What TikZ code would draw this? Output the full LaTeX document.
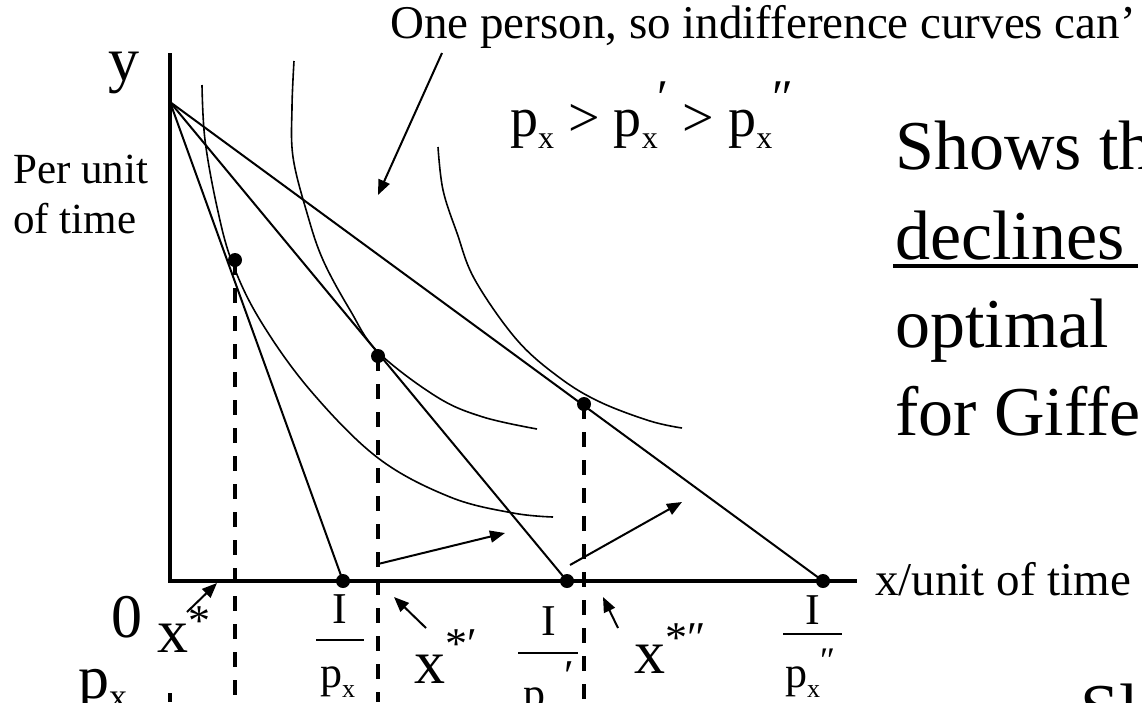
\documentclass[tikz,border=0pt]{standalone}
\usepackage{fontspec}
\setmainfont{Liberation Serif}
\usetikzlibrary{arrows.meta}
\newcommand{\lowx}[2]{\raisebox{-#1}{\fontsize{#2}{#2}\selectfont x}}
\newcommand{\upmark}[2]{\raisebox{#1}{\fontsize{44}{44}\selectfont #2}}
\begin{document}
\begin{tikzpicture}[x=1pt,y=-1pt,
  axis/.style={line width=3.5pt},
  budget/.style={line width=2pt},
  icurve/.style={line width=1.6pt},
  dropline/.style={line width=4pt,dash pattern=on 15pt off 13pt},
  pointer/.style={line width=2pt,-{Triangle[length=15pt,width=12pt]}},
  dot/.style={circle,fill,inner sep=0pt,minimum size=14pt},
  smalltext/.style={anchor=base west,inner sep=0pt,font=\fontsize{47}{56}\selectfont},
  midtext/.style={anchor=base west,inner sep=0pt,font=\fontsize{62}{70}\selectfont},
  bigtext/.style={anchor=base west,inner sep=0pt,font=\fontsize{70}{84}\selectfont},
  fractext/.style={anchor=base west,inner sep=0pt,font=\fontsize{44}{50}\selectfont},
  fracbar/.style={line width=2pt}]
\useasboundingbox (0,0) rectangle (1142,702);
\clip (0,0) rectangle (1142,702);
% axes
\coordinate (Ytop) at (170,53);
\coordinate (O) at (170,581);
\coordinate (Xend) at (857,581);
\draw[axis] (Ytop) -- (O) -- (Xend);
\draw[axis] (170,693) -- (170,702);
% budget lines
\coordinate (A) at (170,102);
\node[dot] (B1) at (343,581) {};
\node[dot] (B2) at (567,581) {};
\node[dot] (B3) at (823,581) {};
\draw[budget] (A) -- (B1.center);
\draw[budget] (A) -- (B2.center);
\draw[budget] (A) -- (B3.center);
% indifference curves
\draw[icurve] plot[smooth,tension=0.6] coordinates {(202,85) (205,140) (217,207) (232,262) (260,320) (310,390) (378,458) (450,497) (513,513) (553,517)};
\draw[icurve] plot[smooth,tension=0.6] coordinates {(294,61) (292,107) (293,157) (307,213) (323,260) (350,310) (378,352) (437,397) (483,417) (537,429)};
\draw[icurve] plot[smooth,tension=0.6] coordinates {(438,147) (443,190) (457,233) (475,280) (517,340) (560,378) (600,402) (650,421) (682,428)};
% optimal points
\node[dot] (T1) at (235,260) {};
\node[dot] (T2) at (378,356) {};
\node[dot] (T3) at (584,404) {};
\draw[dropline] (T1.center) -- (T1.center |- 0,702);
\draw[dropline] (T2.center) -- (T2.center |- 0,702);
\draw[dropline] (T3.center) -- (T3.center |- 0,702);
% shift arrows
\draw[pointer] (378,564) -- (505,533);
\draw[pointer] (570,565) -- (682,502);
% labels
\node[smalltext] (note) at (390,38) {One person, so indifference curves can’};
\coordinate (noteTail) at (442,53);
\coordinate (noteTip) at (378,195);
\draw[pointer] (noteTail) -- (noteTip);
\node[anchor=base west,inner sep=0pt,font=\fontsize{56}{60}\selectfont] (prices) at (510,136)
  {p\lowx{12pt}{32} > p\lowx{12pt}{32}\raisebox{22pt}{\fontsize{50}{50}\selectfont ′} > p\lowx{12pt}{32}\raisebox{22pt}{\fontsize{50}{50}\selectfont ″}};
\node[midtext] (ylab) at (108,80) {y};
\node[anchor=base west,inner sep=0pt,font=\fontsize{43}{50}\selectfont] (perunit) at (13,183) {Per unit};
\node[anchor=base west,inner sep=0pt,font=\fontsize{43}{50}\selectfont] (oftime) at (13,233) {of time};
\node[smalltext] (xlab) at (875,595) {x/unit of time};
\node[midtext] (zero) at (111,637) {0};
\node[midtext] (px) at (78,698) {p\lowx{10pt}{36}};
% quantities
\node[midtext] (xs1) at (157,652) {x\upmark{17pt}{*}};
\node[midtext] (xs2) at (414,683) {x\upmark{25pt}{*′}};
\node[midtext] (xs3) at (634,673) {x\upmark{21pt}{*″}};
\coordinate (q1) at (187,612);
\draw[pointer] (q1) -- (217,583);
\coordinate (q2) at (426,628);
\draw[pointer] (q2) -- (394,597);
\coordinate (q3) at (618,628);
\draw[pointer] (q3) -- (603,597);
% intercepts I/p
\node[fractext,anchor=base] (I1) at (340,623) {I};
\draw[fracbar] (316,640) -- (364,640);
\node[fractext] (d1) at (320,687) {p\lowx{10pt}{26}};
\node[fractext,anchor=base] (I2) at (549,635) {I};
\draw[fracbar] (518,653) -- (578,653);
\node[fractext] (d2) at (523,708) {p\lowx{10pt}{26}\hspace{6pt}\raisebox{18pt}{′}};
\node[fractext,anchor=base] (I3) at (813,624) {I};
\draw[fracbar] (783,634) -- (842,634);
\node[fractext] (d3) at (785,687) {p\lowx{10pt}{26}\raisebox{15pt}{\fontsize{36}{36}\selectfont ″}};
% comment text
\node[bigtext] (line1) at (895,169) {Shows th};
\node[bigtext] (line2) at (895,259) {declines};
\draw[line width=4pt] (893,266) -- (1138,266);
\node[bigtext] (line3) at (895,347) {optimal};
\node[bigtext] (line4) at (895,435) {for Giffe};
\node[bigtext] (line5) at (1080,732) {Sl};
\end{tikzpicture}
\end{document}
